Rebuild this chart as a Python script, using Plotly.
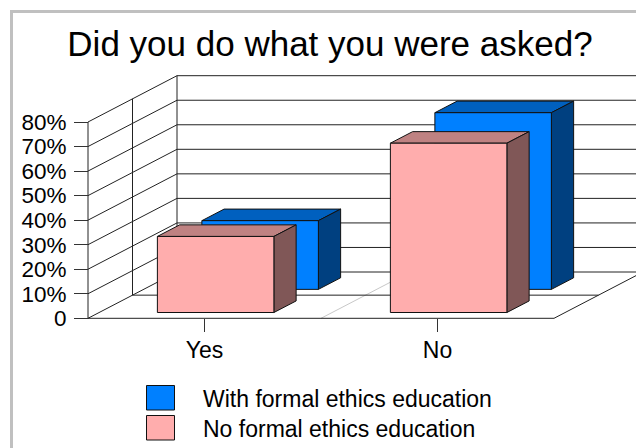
import plotly.graph_objects as go

# ---- data ----
title_text = "Did you do what you were asked?"
categories = ["Yes", "No"]
with_formal = [28, 72]
no_formal = [31, 69]
y_ticks = [0, 10, 20, 30, 40, 50, 60, 70, 80]
y_tick_labels = ["0", "10%", "20%", "30%", "40%", "50%", "60%", "70%", "80%"]
series_names = ["With formal ethics education", "No formal ethics education"]

# ---- styling / geometry ----
W, H = 636, 448
L, R, T, B = 88, 554, 122, 318.3
KX = (R - L) / 2      # pixels per category
KY = (B - T) / 80     # pixels per percent
DX = 89 / KX          # depth shift in category units
DY = 46.3 / KY        # depth shift in value units
FONT = "Liberation Sans"
BLUE = ("#0080ff", "#0060bf", "#004080")
PINK = ("#ffadad", "#bf8282", "#805757")


def proj(c, v, d):
    return c + d * DX, v + d * DY


def px(x):
    return x / W


def py(y):
    return 1 - y / H


def line_trace(segments, color="#222222", width=1):
    xs, ys = [], []
    for a, b in segments:
        xs += [a[0], b[0], None]
        ys += [a[1], b[1], None]
    return go.Scatter(x=xs, y=ys, mode="lines", hoverinfo="skip",
                      showlegend=False, line=dict(color=color, width=width))


def poly(points, color, name):
    xs = [p[0] for p in points] + [points[0][0]]
    ys = [p[1] for p in points] + [points[0][1]]
    return go.Scatter(x=xs, y=ys, mode="lines", fill="toself", fillcolor=color, name=name,
                      hoverinfo="skip", showlegend=False,
                      line=dict(color="#111111", width=1))


def bar_faces(c, value, d0, d1, colors, name):
    c0, c1 = c + 0.25, c + 0.75
    front = [proj(c0, 0, d0), proj(c1, 0, d0), proj(c1, value, d0), proj(c0, value, d0)]
    top = [proj(c0, value, d0), proj(c1, value, d0), proj(c1, value, d1), proj(c0, value, d1)]
    side = [proj(c1, 0, d0), proj(c1, 0, d1), proj(c1, value, d1), proj(c1, value, d0)]
    return [poly(top, colors[1], name), poly(side, colors[2], name), poly(front, colors[0], name)]


fig = go.Figure()

# walls and floor
back = [(proj(0, v, 1), proj(2, v, 1)) for v in y_ticks]
wall = [(proj(0, v, 0), proj(0, v, 1)) for v in y_ticks]
verticals = [(proj(0, 0, d), proj(0, 80, d)) for d in (0, 0.5, 1)]
floor = [(proj(0, 0, 0), proj(2, 0, 0)), (proj(0, 0, 0.5), proj(2, 0, 0.5)), (proj(2, 0, 0), proj(2, 0, 1))]
fig.add_trace(line_trace([(proj(1, 0, 0), proj(1, 0, 1))], color="#c8c8c8"))
fig.add_trace(line_trace(back + wall + verticals + floor))

# bars, back to front
for i in range(len(categories)):
    for t in bar_faces(i, with_formal[i], 0.625, 0.875, BLUE, series_names[0]):
        fig.add_trace(t)
    for t in bar_faces(i, no_formal[i], 0.125, 0.375, PINK, series_names[1]):
        fig.add_trace(t)

shapes = [
    dict(type="line", xref="paper", yref="paper", x0=px(11.5), x1=px(11.5), y0=py(11.5), y1=py(448),
         line=dict(color="#c0c0c0", width=3)),
    dict(type="line", xref="paper", yref="paper", x0=px(10), x1=px(636), y0=py(11.5), y1=py(11.5),
         line=dict(color="#c0c0c0", width=3)),
]
annotations = []
for (y0, y1, color, name) in ((385.5, 410, BLUE[0], series_names[0]), (415.5, 440, PINK[0], series_names[1])):
    shapes.append(dict(type="rect", xref="paper", yref="paper", x0=px(146.5), x1=px(174.5),
                       y0=py(y1), y1=py(y0), fillcolor=color, line=dict(color="#111111", width=1)))
    annotations.append(dict(text=name, xref="paper", yref="paper", x=px(201), y=py((y0 + y1) / 2 + 1),
                            xanchor="left", yanchor="middle", showarrow=False,
                            font=dict(family=FONT, size=23, color="#000000")))

fig.update_layout(
    width=W, height=H, autosize=False, showlegend=False, hovermode=False,
    paper_bgcolor="white", plot_bgcolor="white",
    margin=dict(l=0, r=0, t=0, b=0, pad=0),
    title=dict(text=title_text, x=330 / W, xref="container", xanchor="center",
               y=py(44), yref="container", yanchor="middle",
               font=dict(family=FONT, size=35, color="#000000")),
    xaxis=dict(range=[-L / KX, (W - L) / KX], tickmode="array", tickvals=[0.5, 1.5], ticktext=categories,
               anchor="free", position=py(B), domain=[0, 1],
               ticks="outside", ticklen=13, tickcolor="#333333", tickwidth=1, showgrid=False,
               zeroline=False, showline=False,
               ticklabelstandoff=-2, tickfont=dict(family=FONT, size=23, color="#000000")),
    yaxis=dict(range=[-(H - B) / KY, B / KY], tickmode="array", tickvals=y_ticks, ticktext=y_tick_labels,
               anchor="free", position=px(L), domain=[0, 1],
               ticks="outside", ticklen=14, tickcolor="#333333", tickwidth=1, showgrid=False,
               zeroline=False, showline=False,
               ticklabelstandoff=3, tickfont=dict(family=FONT, size=22.5, color="#000000")),
    shapes=shapes, annotations=annotations,
)
fig.write_html("out.html", config={"displayModeBar": False},
               post_script="document.body.style.margin='0';")
